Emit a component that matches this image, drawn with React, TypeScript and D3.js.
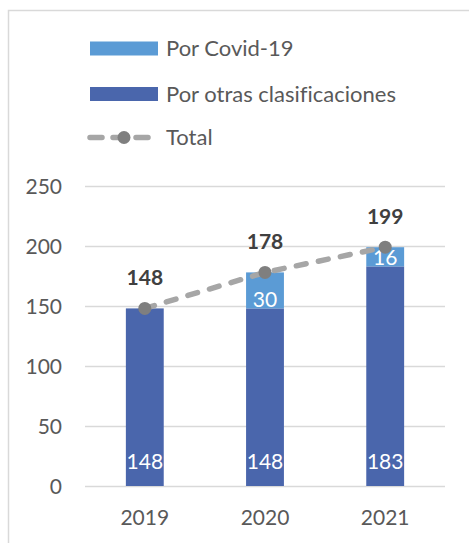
import { useEffect, useRef } from 'react';
import * as d3 from 'd3';

const years = ['2019', '2020', '2021'];
const otras = [148, 148, 183];
const covid = [0, 30, 16];
const totals = [148, 178, 199];
const yTicks = [0, 50, 100, 150, 200, 250];

const FONT = 'Lato, "Open Sans", sans-serif';
const C_OTRAS = '#4a66ac';
const C_COVID = '#5b9bd5';
const C_LINE = '#a6a6a6';
const C_DOT = '#7f7f7f';
const C_TEXT = '#595959';

export default function App() {
  const ref = useRef<SVGSVGElement | null>(null);

  useEffect(() => {
    const el = ref.current;
    if (!el) return;
    const svg = d3.select(el);
    svg.selectAll('*').remove();

    const width = 469, height = 543;
    const plot = { left: 85, right: 445, top: 186, bottom: 486 };

    svg.append('rect')
      .attr('x', 8.5).attr('y', 10.5).attr('width', width + 10).attr('height', height + 10)
      .attr('fill', 'white').attr('stroke', '#d9d9d9').attr('stroke-width', 1.5);

    const x = d3.scaleBand().domain(years).range([plot.left, plot.right]).paddingInner(0.685).paddingOuter(0.34);
    const y = d3.scaleLinear().domain([0, 250]).range([plot.bottom, plot.top]);
    const cx = (d: string) => (x(d) as number) + x.bandwidth() / 2;

    // grid
    svg.append('g').selectAll('line').data(yTicks).enter().append('line')
      .attr('x1', plot.left).attr('x2', plot.right)
      .attr('y1', d => y(d) + 0.5).attr('y2', d => y(d) + 0.5)
      .attr('stroke', '#d9d9d9').attr('stroke-width', 1.3);

    svg.append('g').selectAll('text').data(yTicks).enter().append('text')
      .attr('x', 62).attr('y', d => y(d)).attr('dy', '0.36em')
      .attr('text-anchor', 'end').style('font-family', FONT).style('font-size', '21px')
      .style('fill', C_TEXT).text(d => d);

    svg.append('g').selectAll('text').data(years).enter().append('text')
      .attr('x', d => cx(d)).attr('y', 525)
      .attr('text-anchor', 'middle').style('font-family', FONT).style('font-size', '21px')
      .style('fill', C_TEXT).text(d => d);

    // bars
    const bars = svg.append('g');
    bars.selectAll('.otras').data(years).enter().append('rect')
      .attr('x', d => x(d) as number).attr('width', x.bandwidth())
      .attr('y', (d, i) => y(otras[i])).attr('height', (d, i) => y(0) - y(otras[i]))
      .attr('fill', C_OTRAS);
    bars.selectAll('.covid').data(years).enter().append('rect')
      .attr('x', d => x(d) as number).attr('width', x.bandwidth())
      .attr('y', (d, i) => y(otras[i] + covid[i])).attr('height', (d, i) => y(otras[i]) - y(otras[i] + covid[i]))
      .attr('fill', C_COVID);

    // inner labels
    svg.append('g').selectAll('text').data(years).enter().append('text')
      .attr('x', d => cx(d)).attr('y', y(0) - 17)
      .attr('text-anchor', 'middle').style('font-family', FONT).style('font-size', '21px')
      .style('fill', 'white').text((d, i) => otras[i]);
    svg.append('g').selectAll('text').data(years.filter((d, i) => covid[i] > 0)).enter().append('text')
      .attr('x', d => cx(d)).attr('y', d => y(otras[years.indexOf(d)]) - 1.5)
      .attr('text-anchor', 'middle').style('font-family', FONT).style('font-size', '21px')
      .style('fill', 'white').text(d => covid[years.indexOf(d)]);

    // total line
    const line = d3.line<number>().x((d, i) => cx(years[i])).y(d => y(d));
    svg.append('path').datum(totals).attr('d', line)
      .attr('fill', 'none').attr('stroke', C_LINE).attr('stroke-width', 5.5)
      .attr('stroke-linecap', 'round').attr('stroke-dasharray', '10 12.5');
    svg.append('g').selectAll('circle').data(totals).enter().append('circle')
      .attr('cx', (d, i) => cx(years[i])).attr('cy', d => y(d)).attr('r', 6.5).attr('fill', C_DOT);
    svg.append('g').selectAll('text').data(totals).enter().append('text')
      .attr('x', (d, i) => cx(years[i])).attr('y', d => y(d) - 23)
      .attr('text-anchor', 'middle').style('font-family', FONT).style('font-size', '21px')
      .style('font-weight', 'bold').style('fill', '#404040').text(d => d);

    // legend
    const lg = svg.append('g');
    const items = [
      { label: 'Por Covid-19', color: C_COVID, y: 48.5, kind: 'bar' },
      { label: 'Por otras clasificaciones', color: C_OTRAS, y: 94, kind: 'bar' },
      { label: 'Total', color: C_LINE, y: 137.5, kind: 'line' },
    ];
    items.forEach(it => {
      if (it.kind === 'bar') {
        lg.append('rect').attr('x', 90).attr('y', it.y - 7).attr('width', 68).attr('height', 14).attr('fill', it.color);
      } else {
        lg.append('line').attr('x1', 90).attr('x2', 156).attr('y1', it.y).attr('y2', it.y)
          .attr('stroke', C_LINE).attr('stroke-width', 5.5).attr('stroke-linecap', 'round')
          .attr('stroke-dasharray', '12 11');
        lg.append('circle').attr('cx', 124).attr('cy', it.y).attr('r', 6.5).attr('fill', C_DOT);
      }
      lg.append('text').attr('x', 166).attr('y', it.y).attr('dy', '0.36em')
        .style('font-family', FONT).style('font-size', '22px').style('font-variant-ligatures', 'none')
        .style('fill', C_TEXT).text(it.label);
    });
  }, []);

  return (
    <div style={{ position: 'absolute', left: 0, top: 0, width: 469, height: 543, overflow: 'hidden' }}>
      <svg ref={ref} width={469} height={543} style={{ display: 'block' }} />
    </div>
  );
}
